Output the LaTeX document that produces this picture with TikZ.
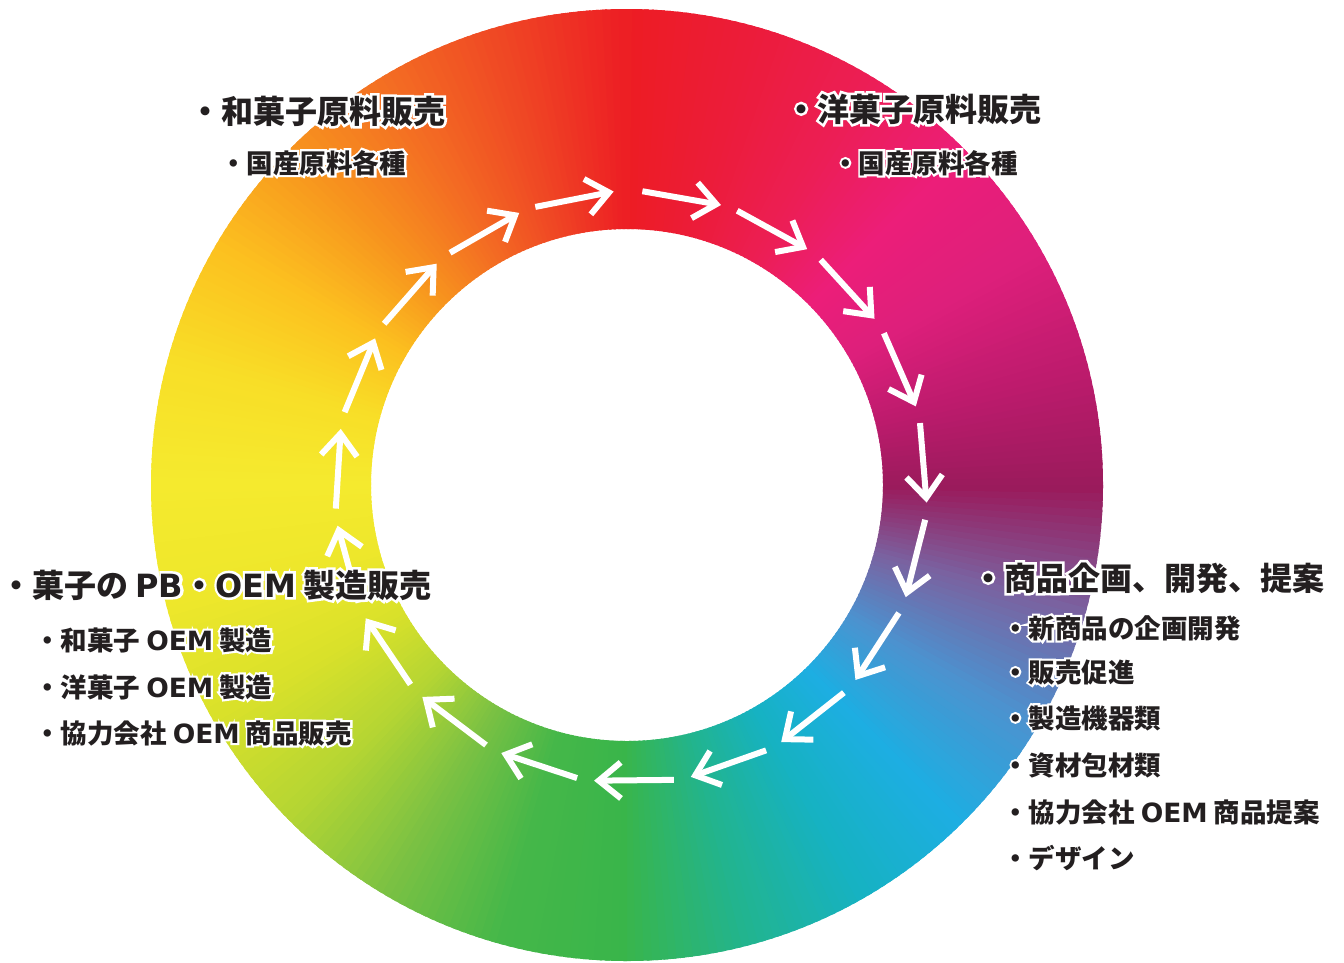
\documentclass[tikz,border=0pt]{standalone}
\usepackage{fontspec}
\setmainfont{Noto Sans CJK JP}
\newfontfamily\halofont{Noto Sans CJK JP}[BoldFeatures={FakeBold=16}]
\newfontfamily\latfont{DejaVu Sans}
\newfontfamily\lathalo{DejaVu Sans}[BoldFeatures={FakeBold=16}]
\usetikzlibrary{arrows.meta}

% colours round the ring, every 15 degrees clockwise from the top
\definecolor{inkgray}{HTML}{231F20}
\definecolor{g0}{HTML}{ED1C24}
\definecolor{g1}{HTML}{EC1C3A}
\definecolor{g2}{HTML}{EC1E55}
\definecolor{g3}{HTML}{EC1E79}
\definecolor{g4}{HTML}{DD1F7B}
\definecolor{g5}{HTML}{BE1B6D}
\definecolor{g6}{HTML}{9A1B5C}
\definecolor{g7}{HTML}{7A62A0}
\definecolor{g8}{HTML}{4C92CF}
\definecolor{g9}{HTML}{1DAEE2}
\definecolor{g10}{HTML}{16B2C2}
\definecolor{g11}{HTML}{22B48E}
\definecolor{g12}{HTML}{39B54A}
\definecolor{g13}{HTML}{45B749}
\definecolor{g14}{HTML}{7AC143}
\definecolor{g15}{HTML}{B5D533}
\definecolor{g16}{HTML}{D9E12A}
\definecolor{g17}{HTML}{EEE72B}
\definecolor{g18}{HTML}{F5EA2E}
\definecolor{g19}{HTML}{F8DE27}
\definecolor{g20}{HTML}{FCC01F}
\definecolor{g21}{HTML}{F7931E}
\definecolor{g22}{HTML}{F36A23}
\definecolor{g23}{HTML}{EF4424}
\definecolor{g24}{HTML}{ED1C24}

% latin words, and a white rim behind each label
\newcommand\lat[1]{{\latfont\bfseries #1}}
\newcommand\halo[1]{\rlap{\color{white}\let\latfont\lathalo\halofont\bfseries #1}#1}

\tikzset{
  flow/.style={white, line width=6pt, -{Straight Barb[length=22pt,width=36pt]}},
  head/.style={anchor=base west, inner sep=0pt, text=inkgray,
    font=\bfseries\fontsize{32}{38}\selectfont},
  item/.style={head, font=\bfseries\fontsize{26.5}{32}\selectfont},
}

\begin{document}
\begin{tikzpicture}[x=1pt, y=1pt]

    \useasboundingbox (0,0) rectangle (1344,-962);

    % Colour ring
    \begin{scope}[shift={(627,-485)}, even odd rule]
        \clip (0,0) circle[radius=476] (0,0) circle[radius=256];
        \foreach \seg in {0,...,23}{
            \pgfmathtruncatemacro\nxt{\seg+1}
            \foreach \stp in {0,...,14}{
                \pgfmathsetmacro\pc{\stp*100/15}
                \pgfmathsetmacro\angA{90-15*\seg-\stp}
                \pgfmathsetmacro\angB{\angA-1.6}
                \fill[g\nxt!\pc!g\seg] (0,0) -- (\angA:480) -- (\angB:480) -- cycle;
            }
        }
    \end{scope}

    % Arrows going round clockwise
    \begin{scope}[shift={(631,-487)}]
        \foreach \n in {0,...,18}{
            \pgfmathsetmacro\angS{87.8-18.83*\n}
            \pgfmathsetmacro\angE{\angS-15.5}
            \draw[flow] (\angS:296) -- (\angE:296);
        }
    \end{scope}

    % Top left
    \node[head] (wagashi) at (189,-123) {\halo{・和菓子原料販売}};
    \node[item] (wagashisub) at (220,-173) {\halo{・国産原料各種}};

    % Top right
    \node[head] (yogashi) at (785,-121) {\halo{・洋菓子原料販売}};
    \node[item] (yogashisub) at (832,-173) {\halo{・国産原料各種}};

    % Left
    \node[head] (oem) at (0,-597)
        {\halo{・菓子の \lat{PB}・\lat{OEM} 製造販売}};
    \node[item] (oemA) at (34,-650) {\halo{・和菓子 \lat{OEM} 製造}};
    \node[item] (oemB) at (34,-697) {\halo{・洋菓子 \lat{OEM} 製造}};
    \node[item] (oemC) at (34,-743) {\halo{・協力会社 \lat{OEM} 商品販売}};

    % Right
    \node[head] (plan) at (972,-590) {\halo{・商品企画、開発、提案}};
    \node[item] (planA) at (1002,-638) {\halo{・新商品の企画開発}};
    \node[item] (planB) at (1002,-682) {\halo{・販売促進}};
    \node[item] (planC) at (1002,-728) {\halo{・製造機器類}};
    \node[item] (planD) at (1002,-775) {\halo{・資材包材類}};
    \node[item] (planE) at (1002,-822) {\halo{・協力会社 \lat{OEM} 商品提案}};
    \node[item] (planF) at (1002,-868) {\halo{・デザイン}};

\end{tikzpicture}
\end{document}
